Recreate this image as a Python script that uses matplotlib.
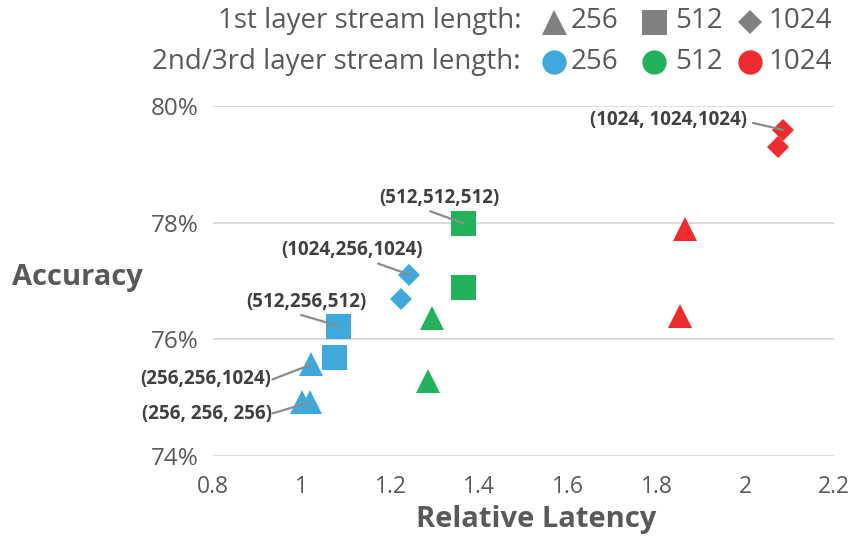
import matplotlib
matplotlib.use("Agg")
import matplotlib.pyplot as plt
from matplotlib.ticker import FuncFormatter

plt.rcParams['font.family'] = ['Open Sans', 'DejaVu Sans']

# ---- data ----
# triangles: 1st layer 256
tri_blue_lat = [1.00, 1.018, 1.022]
tri_blue_acc = [74.92, 74.92, 75.57]
tri_green_lat = [1.293, 1.284]
tri_green_acc = [76.37, 75.29]
tri_red_lat = [1.865, 1.853]
tri_red_acc = [77.89, 76.40]
# squares: 1st layer 512
sq_blue_lat = [1.082, 1.073]
sq_blue_acc = [76.23, 75.70]
sq_green_lat = [1.364, 1.364]
sq_green_acc = [77.99, 76.90]
# diamonds: 1st layer 1024
di_blue_lat = [1.242, 1.223]
di_blue_acc = [77.11, 76.70]
di_red_lat = [2.085, 2.074]
di_red_acc = [79.59, 79.29]

x_ticks = [0.8, 1.0, 1.2, 1.4, 1.6, 1.8, 2.0, 2.2]
y_ticks = [74, 76, 78, 80]

labels = ["(1024, 1024,1024)", "(512,512,512)", "(1024,256,1024)",
          "(512,256,512)", "(256,256,1024)", "(256, 256, 256)"]
label_lat = [di_red_lat[0], sq_green_lat[0], di_blue_lat[0],
             sq_blue_lat[0], tri_blue_lat[2], tri_blue_lat[1]]
label_acc = [di_red_acc[0], sq_green_acc[0], di_blue_acc[0],
             sq_blue_acc[0], tri_blue_acc[2], tri_blue_acc[1]]

legend_vals = ["256", "512", "1024"]

BLUE = '#3FA9DE'
GREEN = '#22B25C'
RED = '#EE2B2E'
GRAY = '#808083'
TXT = '#595959'
DARK = '#404040'

W, H = 856, 539
fig = plt.figure(figsize=(W / 100, H / 100), dpi=100)
ax = fig.add_axes([213 / W, 1 - 456 / H, (834 - 213) / W, (456 - 106) / H])

tri_ms = 17
sq_ms = 18
di_ms = 11.5
ax.plot(tri_blue_lat, tri_blue_acc, '^', ms=tri_ms, color=BLUE, mew=0, zorder=3)
ax.plot(tri_green_lat, tri_green_acc, '^', ms=tri_ms, color=GREEN, mew=0, zorder=3)
ax.plot(tri_red_lat, tri_red_acc, '^', ms=tri_ms, color=RED, mew=0, zorder=3)
ax.plot(sq_blue_lat, sq_blue_acc, 's', ms=sq_ms, color=BLUE, mew=0, zorder=3)
ax.plot(sq_green_lat, sq_green_acc, 's', ms=sq_ms, color=GREEN, mew=0, zorder=3)
ax.plot(di_blue_lat, di_blue_acc, 'D', ms=di_ms, color=BLUE, mew=0, zorder=3)
ax.plot(di_red_lat, di_red_acc, 'D', ms=di_ms, color=RED, mew=0, zorder=3)

ax.set_xlim(0.8, 2.2)
ax.set_ylim(74, 80)
ax.set_xticks(x_ticks)
ax.set_yticks(y_ticks)
ax.xaxis.set_major_formatter(FuncFormatter(lambda v, p: f"{v:g}"))
ax.yaxis.set_major_formatter(FuncFormatter(lambda v, p: f"{v:g}%"))
ax.grid(axis='y', color='#D9D9D9', lw=1.3)
ax.set_axisbelow(True)
for s in ax.spines.values():
    s.set_visible(False)
ax.tick_params(axis='both', length=0, labelcolor=TXT)
ax.tick_params(axis='x', pad=14, labelsize=16.5)
ax.tick_params(axis='y', pad=10, labelsize=17.5)

fig.text(12 / W, 1 - 278 / H, "Accuracy", ha='left', va='center',
         fontsize=21, fontweight='bold', color=TXT)
fig.text(536 / W, 1 - 519 / H, "Relative Latency", ha='center', va='center',
         fontsize=21, fontweight='bold', color=TXT)

# annotations: (line start offset px, text offset px, ha)
ann = [((-30, 7), (-36, 10), 'right'),
       ((-33, 12), (-24, 25), 'center'),
       ((-31, 11), (-57, 25), 'center'),
       ((-37, 11), (-32, 24), 'center'),
       ((-39, -15), (-40, -15), 'right'),
       ((-37, -11), (-38, -12), 'right')]
for lab, lx, ly, (lo, to, ha) in zip(labels, label_lat, label_acc, ann):
    ax.annotate('', xy=(lx, ly), xytext=lo, textcoords='offset pixels',
                arrowprops=dict(arrowstyle='-', color='#8C8C8C', lw=1.6,
                                shrinkA=0, shrinkB=0), zorder=5)
    ax.annotate(lab, xy=(lx, ly), xytext=to, textcoords='offset pixels',
                ha=ha, va='center', fontsize=13.5, fontweight='bold', color=DARK,
                zorder=5)

# legend rows
def fx(px):
    return px / W

def fy(py):
    return 1 - py / H

row1_y, row2_y = 21, 62
LFS = 20
fig.text(fx(521), fy(row1_y), "1st layer stream length:", ha='right', va='center',
         fontsize=LFS, color=TXT)
fig.text(fx(521), fy(row2_y), "2nd/3rd layer stream length:", ha='right', va='center',
         fontsize=LFS, color=TXT)
mk_x = [554, 654, 750]
txt_x = [571, 675, 768]
shapes = [('^', 18), ('s', 18), ('D', 12.2)]
circ_cols = [BLUE, GREEN, RED]
for mx, tx, v, (m, ms), cc in zip(mk_x, txt_x, legend_vals, shapes, circ_cols):
    fig.add_artist(plt.Line2D([fx(mx)], [fy(row1_y + 1)], marker=m, ms=ms, color=GRAY,
                              mew=0, transform=fig.transFigure))
    fig.add_artist(plt.Line2D([fx(mx)], [fy(row2_y)], marker='o', ms=17.5, color=cc,
                              mew=0, transform=fig.transFigure))
    fig.text(fx(tx), fy(row1_y), v, ha='left', va='center', fontsize=LFS, color=TXT)
    fig.text(fx(tx), fy(row2_y), v, ha='left', va='center', fontsize=LFS, color=TXT)

fig.savefig("out.png", dpi=100)
